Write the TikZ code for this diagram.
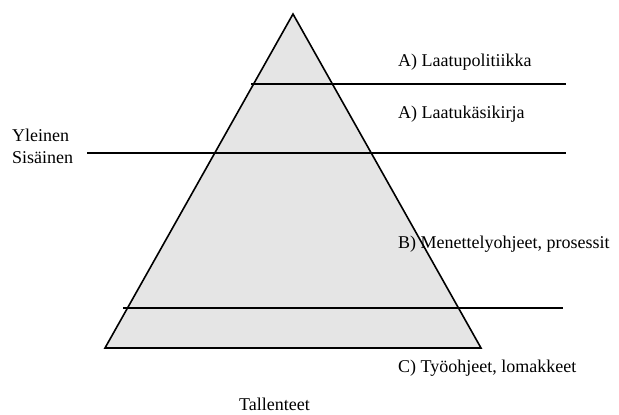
\documentclass[tikz,border=0pt]{standalone}
\usepackage{fontspec}
\setmainfont{Liberation Serif}
\begin{document}
\begin{tikzpicture}[x=1pt,y=-1pt,
  lbl/.style={anchor=base west,inner sep=0pt,font=\fontsize{18}{21}\selectfont},
  edge/.style={line width=1.6pt,line join=miter},
  rule/.style={line width=1.1pt}]
\useasboundingbox (0,0) rectangle (619,415);
\coordinate (apex) at (293,14);
\coordinate (bl) at (105,348);
\coordinate (br) at (481,348);
\filldraw[fill=black!10,edge] (apex) -- (br) -- (bl) -- cycle;
\coordinate (l1a) at (251,84);  \coordinate (l1b) at (566,84);
\coordinate (l2a) at (87,153);  \coordinate (l2b) at (566,153);
\coordinate (l3a) at (123,308); \coordinate (l3b) at (563,308);
\draw[rule] (l1a) -- (l1b);
\draw[rule] (l2a) -- (l2b);
\draw[rule] (l3a) -- (l3b);
\node[lbl] (t1) at (398,66) {A) Laatupolitiikka};
\node[lbl] (t2) at (398,118) {A) Laatukäsikirja};
\node[lbl] (t3) at (12,141) {Yleinen};
\node[lbl] (t4) at (12,163) {Sisäinen};
\node[lbl] (t5) at (398,248) {B) Menettelyohjeet, prosessit};
\node[lbl] (t6) at (398,372) {C) Työohjeet, lomakkeet};
\node[lbl] (t7) at (239,410) {Tallenteet};
\end{tikzpicture}
\end{document}
